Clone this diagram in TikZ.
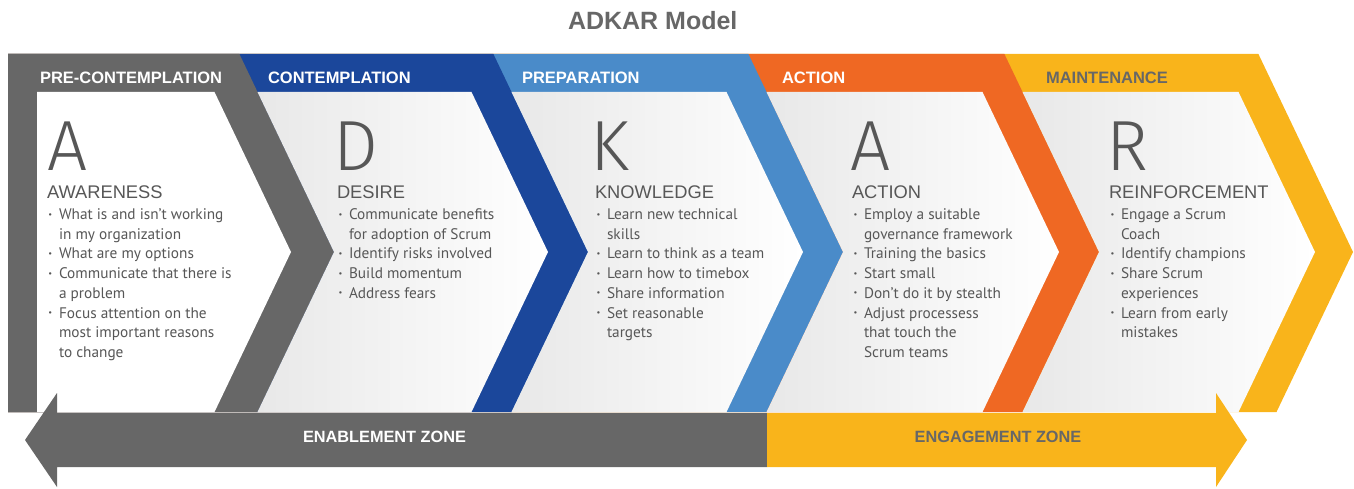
\documentclass[tikz,border=0pt]{standalone}
\usepackage{fontspec}
\setmainfont{PT Sans}
\newfontfamily\labelfont{Liberation Sans}
\newfontfamily\bigfont{Fira Sans Light}

\definecolor{stgray}{HTML}{676767}
\definecolor{stdblue}{HTML}{1B479B}
\definecolor{stlblue}{HTML}{4A8BC9}
\definecolor{storange}{HTML}{EF6823}
\definecolor{styellow}{HTML}{F9B41B}
\definecolor{txtgray}{HTML}{575757}

% bullet mark with its hanging indent
\newcommand{\bul}{\makebox[12pt][l]{\hspace{1.5pt}\raisebox{2.4pt}{\scalebox{0.55}{•}}}}

\begin{document}
\begin{tikzpicture}[x=1pt,y=-1pt,
  every node/.style={inner sep=0pt,outer sep=0pt},
  titletext/.style={anchor=base west,text=stgray,font=\labelfont\bfseries\fontsize{25}{30}\selectfont},
  hdrtext/.style={anchor=base west,text=white,font=\labelfont\bfseries\fontsize{16.5}{20}\selectfont},
  bigletter/.style={anchor=base west,text=txtgray,text depth=0pt,font=\bigfont\fontsize{71}{71}\selectfont},
  headtext/.style={anchor=base west,text=txtgray,text height=12pt,font=\labelfont\fontsize{18.3}{20}\selectfont},
  bodytext/.style={anchor=base west,text=txtgray,font=\fontsize{15.3}{19.7}\selectfont},
  zonetext/.style={anchor=center,font=\labelfont\bfseries\fontsize{16.3}{20}\selectfont},
  panel/.style={left color=black!9,right color=white}
]
\useasboundingbox (0,0) rectangle (1354,489);

% coloured chevrons, back to front
\fill[styellow] (8,54) -- (1258.4,54) -- (1353,252) -- (1276.5,412) -- (8,412) -- cycle;
\fill[storange] (8,54) -- (1004.4,54) -- (1099,252) -- (1022.5,412) -- (8,412) -- cycle;
\fill[stlblue]  (8,54) -- (748.4,54)  -- (843,252)  -- (766.5,412)  -- (8,412) -- cycle;
\fill[stdblue]  (8,54) -- (493.4,54)  -- (588,252)  -- (511.5,412)  -- (8,412) -- cycle;
\fill[stgray]   (8,54) -- (239.4,54)  -- (334,252)  -- (257.5,412)  -- (8,412) -- cycle;

% inner panels
\fill[white] (37,92) -- (214.5,92) -- (291,252) -- (214.5,412) -- (37,412) -- cycle;
\shade[panel] (257.5,92) -- (471.5,92) -- (548,252) -- (471.5,412) -- (257.5,412) -- (334,252) -- cycle;
\shade[panel] (511.5,92) -- (726.5,92) -- (803,252) -- (726.5,412) -- (511.5,412) -- (588,252) -- cycle;
\shade[panel] (766.5,92) -- (982.5,92) -- (1059,252) -- (982.5,412) -- (766.5,412) -- (843,252) -- cycle;
\shade[panel] (1022.5,92) -- (1238.5,92) -- (1315,252) -- (1238.5,412) -- (1022.5,412) -- (1099,252) -- cycle;

% zone arrows
\fill[stgray] (767,413) -- (57,413) -- (57,393) -- (25,440) -- (57,487) -- (57,467) -- (767,467) -- cycle;
\fill[styellow] (767,413) -- (1216,413) -- (1216,393) -- (1247,440) -- (1216,487) -- (1216,467) -- (767,467) -- cycle;

% title and stage labels
\node[titletext] (title) at (568,30) {ADKAR Model};
\node[hdrtext] (h1) at (40,83.5) {PRE-CONTEMPLATION};
\node[hdrtext] (h2) at (268,83.5) {CONTEMPLATION};
\node[hdrtext] (h3) at (522,83.5) {PREPARATION};
\node[hdrtext] (h4) at (782,83.5) {ACTION};
\node[hdrtext,text=stgray] (h5) at (1046,83.5) {MAINTENANCE};

% big letters
\node[bigletter] (L1) at (47,171) {A};
\node[bigletter] (L2) at (333,171) {D};
\node[bigletter] (L3) at (590,171) {K};
\node[bigletter] (L4) at (850,171) {A};
\node[bigletter] (L5) at (1106,171) {R};

% stage headings
\node[headtext] (n1) at (47,198.5) {AWARENESS};
\node[headtext] (n2) at (337,198.5) {DESIRE};
\node[headtext] (n3) at (595,198.5) {KNOWLEDGE};
\node[headtext] (n4) at (852,198.5) {ACTION};
\node[headtext] (n5) at (1109,198.5) {REINFORCEMENT};

% bullet lists
\node[bodytext] (b1) at (47,219.5) {\begin{tabular}[t]{@{}l@{}l@{}}
\bul & What is and isn't working\\
     & in my organization\\
\bul & What are my options\\
\bul & Communicate that there is\\
     & a problem\\
\bul & Focus attention on the\\
     & most important reasons\\
     & to change
\end{tabular}};
\node[bodytext] (b2) at (337,219.5) {\begin{tabular}[t]{@{}l@{}l@{}}
\bul & Communicate benefits\\
     & for adoption of Scrum\\
\bul & Identify risks involved\\
\bul & Build momentum\\
\bul & Address fears
\end{tabular}};
\node[bodytext] (b3) at (595,219.5) {\begin{tabular}[t]{@{}l@{}l@{}}
\bul & Learn new technical\\
     & skills\\
\bul & Learn to think as a team\\
\bul & Learn how to timebox\\
\bul & Share information\\
\bul & Set reasonable\\
     & targets
\end{tabular}};
\node[bodytext] (b4) at (852,219.5) {\begin{tabular}[t]{@{}l@{}l@{}}
\bul & Employ a suitable\\
     & governance framework\\
\bul & Training the basics\\
\bul & Start small\\
\bul & Don't do it by stealth\\
\bul & Adjust processess\\
     & that touch the\\
     & Scrum teams
\end{tabular}};
\node[bodytext] (b5) at (1109,219.5) {\begin{tabular}[t]{@{}l@{}l@{}}
\bul & Engage a Scrum\\
     & Coach\\
\bul & Identify champions\\
\bul & Share Scrum\\
     & experiences\\
\bul & Learn from early\\
     & mistakes
\end{tabular}};

% zone labels
\node[zonetext,text=white] (enable) at (384.5,437) {ENABLEMENT ZONE};
\node[zonetext,text=stgray] (engage) at (998,437) {ENGAGEMENT ZONE};
\end{tikzpicture}
\end{document}
